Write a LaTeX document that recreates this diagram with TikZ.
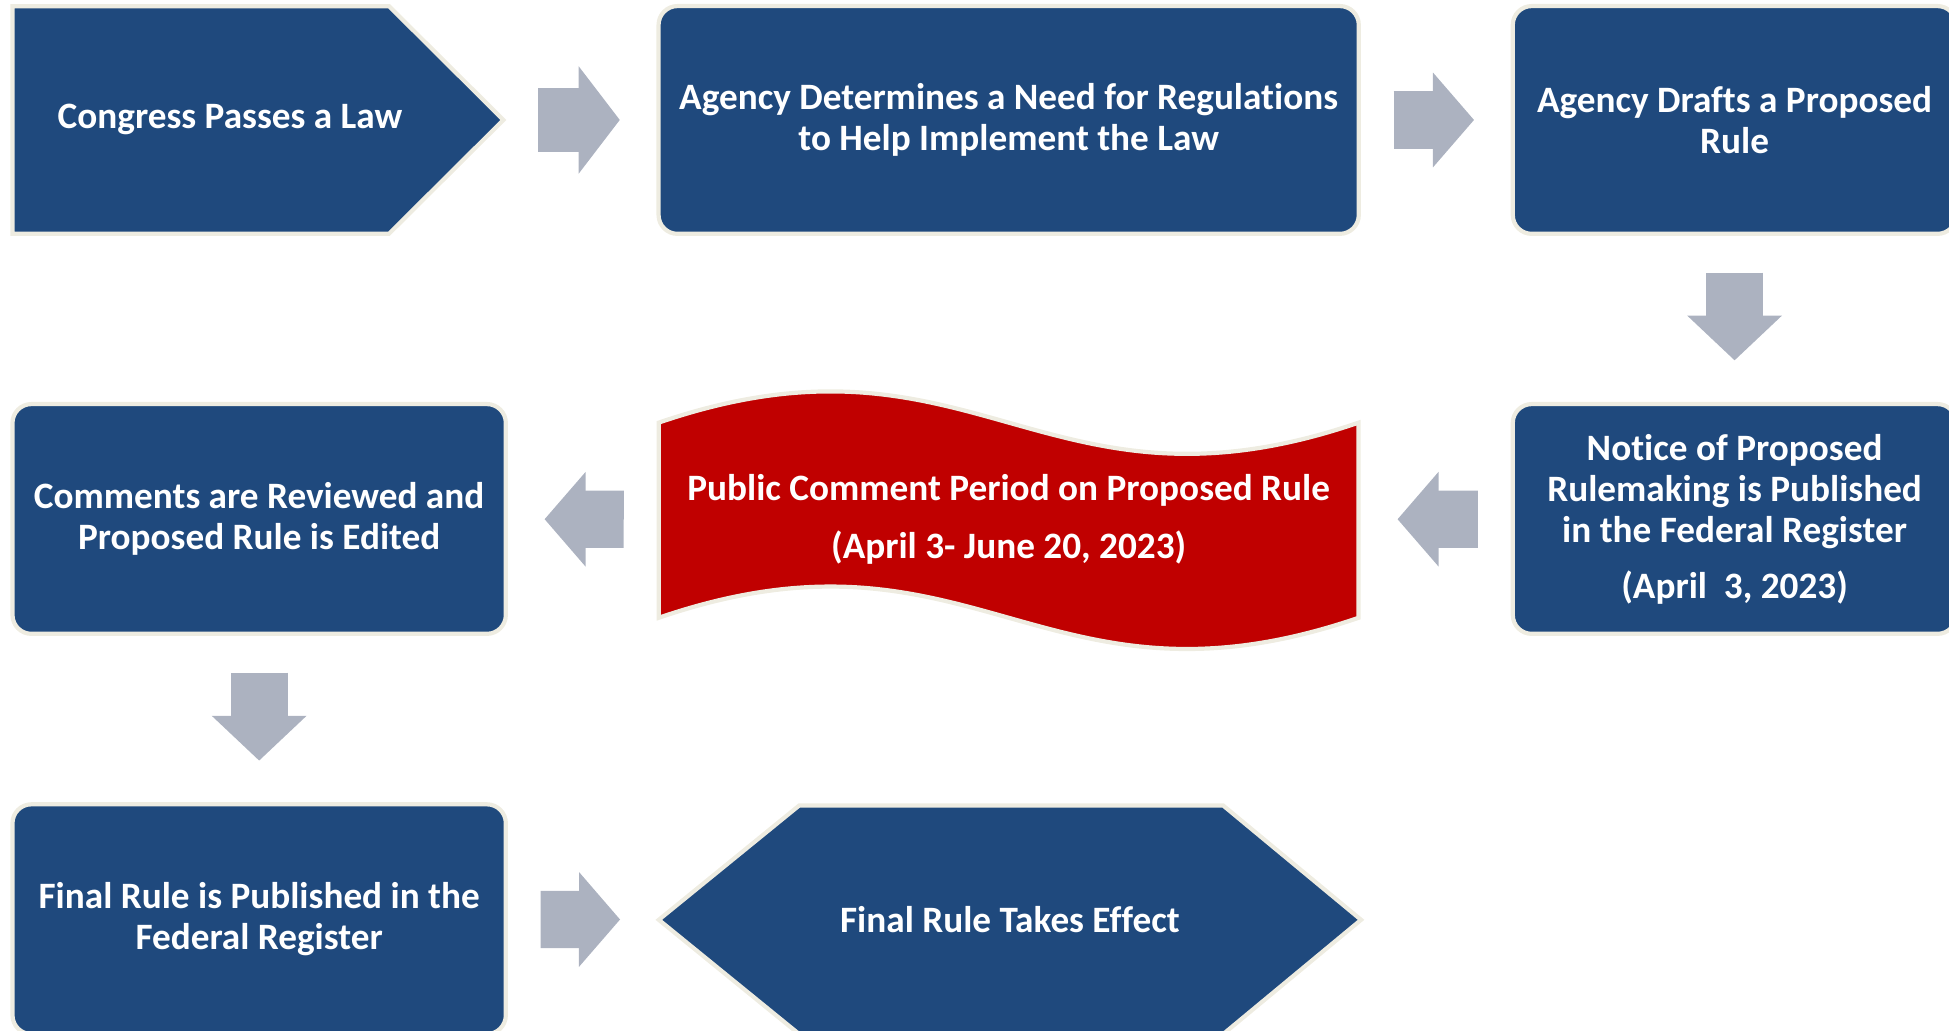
\documentclass[tikz,border=0pt]{standalone}
\usepackage{fontspec}
\setmainfont{Carlito}[Ligatures=NoCommon]
\usetikzlibrary{arrows.meta}
\definecolor{azul}{RGB}{31,73,125}
\definecolor{crema}{RGB}{238,236,225}
\definecolor{gris}{RGB}{172,178,192}
\definecolor{rojo}{RGB}{192,0,0}
\newcommand{\letra}{\fontsize{10.65pt}{11.74pt}\selectfont\bfseries}
\tikzstyle{caja} = [rectangle, rounded corners=0.19cm, fill=azul, draw=crema, line width=1.2pt, outer sep=0pt, align=center, text=white, font=\letra]
\tikzstyle{forma} = [fill=azul, draw=crema, line width=1.2pt]
\tikzstyle{bandera} = [fill=rojo, draw=crema, line width=1.2pt]
\tikzstyle{rotulo} = [align=center, text=white, font=\letra, inner sep=0pt, outer sep=0pt]
\tikzstyle{flecha} = [gris, line width=0.575cm, -{Triangle[length=0.4125cm, width=0.95cm, line width=0.6pt]}, shorten <=0.35cm, shorten >=0.39cm]
\tikzstyle{flechaabajo} = [gris, line width=0.575cm, -{Triangle[length=0.45cm, width=0.95cm, line width=0.6pt]}, shorten <=0.39cm, shorten >=0.44cm]

\begin{document}
\begin{tikzpicture}[x=0.0125cm, y=-0.0125cm]
        \useasboundingbox (0,0) rectangle (1568,829);
        \clip (0,0) rectangle (1568,829);

        % shapes that are not boxes
        \draw [forma] (10,5) -- (313,5) -- (405,96.5) -- (313,188) -- (10,188) -- cycle;
        \draw [bandera] (530,340) .. controls (784,253) and (839,427) .. (1093,340) -- (1093,497) .. controls (839,584) and (784,410) .. (530,497) -- cycle;
        \draw [forma] (643,648) -- (984,648) -- (1095,740) -- (984,832) -- (643,832) -- (530,740) -- cycle;

        \node (congreso) [rotulo] at (185,96) {Congress Passes a Law};
        \coordinate (punta) at (405,96.5);
        \node (necesidad) [caja, minimum width=7.04cm, minimum height=2.29cm] at (811.5,96.5) {Agency Determines a Need for Regulations\\to Help Implement the Law};
        \node (borrador) [caja, minimum width=4.46cm, minimum height=2.29cm] at (1395.5,96.5) {Agency Drafts a Proposed\\Rule};
        \node (aviso) [caja, minimum width=4.46cm, minimum height=2.31cm] at (1395.5,417.5) {Notice of Proposed\\Rulemaking is Published\\in the Federal Register\\[0.15cm](April\ \ 3, 2023)};
        \node (periodo) [rotulo, minimum width=7.04cm] at (811.5,418) {Public Comment Period on Proposed Rule\\[0.175cm](April 3- June 20, 2023)};
        \node (comentarios) [caja, minimum width=4.96cm, minimum height=2.31cm] at (208.5,417.5) {Comments are Reviewed and\\Proposed Rule is Edited};
        \node (final) [caja, minimum width=4.96cm, minimum height=2.31cm] at (208.5,739.5) {Final Rule is Published in the\\Federal Register};
        \node (vigencia) [rotulo, minimum width=7.06cm] at (812.5,740) {Final Rule Takes Effect};

        \draw [flecha, line width=0.65cm, -{Triangle[length=0.4125cm, width=1.075cm, line width=0.6pt]}] (punta) -- (necesidad);
        \draw [flecha] (necesidad) -- (borrador);
        \draw [flechaabajo] (borrador) -- (aviso);
        \draw [flecha] (aviso) -- (periodo);
        \draw [flecha] (periodo) -- (comentarios);
        \draw [flechaabajo] (comentarios) -- (final);
        \draw [flecha] (final) -- (vigencia);
\end{tikzpicture}
\end{document}
